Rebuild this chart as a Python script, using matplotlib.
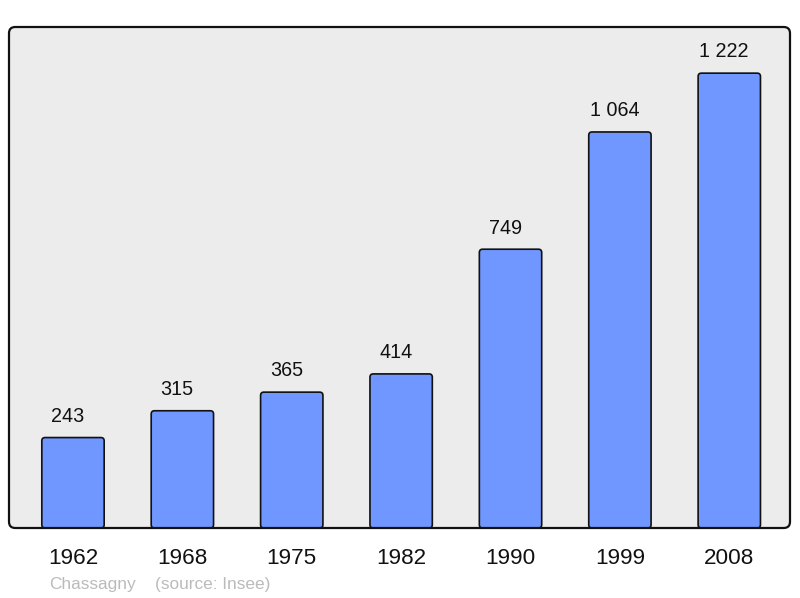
import matplotlib
matplotlib.use("Agg")
import matplotlib.pyplot as plt
from matplotlib.patches import FancyBboxPatch

plt.rcParams['font.family'] = ['Liberation Sans', 'DejaVu Sans']

years = ["1962", "1968", "1975", "1982", "1990", "1999", "2008"]
population = [243, 315, 365, 414, 749, 1064, 1222]
value_labels = ["243", "315", "365", "414", "749", "1 064", "1 222"]

W, H = 800, 598
fig = plt.figure(figsize=(W / 100, H / 100), dpi=100)
ax = fig.add_axes([9 / W, (H - 528) / H, 781 / W, 501 / H])
ax.set_facecolor('none')

x = list(range(len(years)))
bars = ax.bar(x, population, width=0.57, color='#7096ff', edgecolor='none', zorder=2)
ax.set_xlim(-0.585, 6.555)
ax.set_ylim(0, 1346)

bg = FancyBboxPatch((0, 0), 1, 1, boxstyle="round,pad=0,rounding_size=0.008",
                    mutation_aspect=781 / 501,
                    transform=ax.transAxes, facecolor='#ececec', edgecolor='none', zorder=0)
ax.add_patch(bg)

for b in bars:
    b.set_visible(False)
    rp = FancyBboxPatch((b.get_x(), 0), b.get_width(), b.get_height(),
                        boxstyle="round,pad=0,rounding_size=0.03",
                        mutation_aspect=(1346 / 501) / (7.14 / 781),
                        facecolor='#7096ff', edgecolor='#111111', linewidth=1.2, zorder=3)
    ax.add_patch(rp)

for xi, v, lab in zip(x, population, value_labels):
    ax.annotate(lab, (xi, v), xytext=(-3.8, 11.3), textcoords='offset points',
                ha='center', va='baseline', fontsize=14.2, color='#111111', zorder=4)

for s in ax.spines.values():
    s.set_visible(False)

frame = FancyBboxPatch((0, 0), 1, 1, boxstyle="round,pad=0,rounding_size=0.008",
                       mutation_aspect=781 / 501,
                       transform=ax.transAxes, facecolor='none', edgecolor='#111111',
                       linewidth=1.6, zorder=5, clip_on=False)
ax.add_patch(frame)

ax.set_xticks(x)
ax.set_xticklabels(years, fontsize=16.2, color='#111111')
ax.tick_params(axis='x', length=0, pad=14.5)
ax.set_yticks([])

fig.text(49 / W, 1 - 584 / H, "Chassagny", fontsize=12.4, color='#bbbbbb', va='center', ha='left')
fig.text(155 / W, 1 - 584 / H, "(source: Insee)", fontsize=12.4, color='#bbbbbb', va='center', ha='left')

fig.savefig("out.png", dpi=100, facecolor='white')
